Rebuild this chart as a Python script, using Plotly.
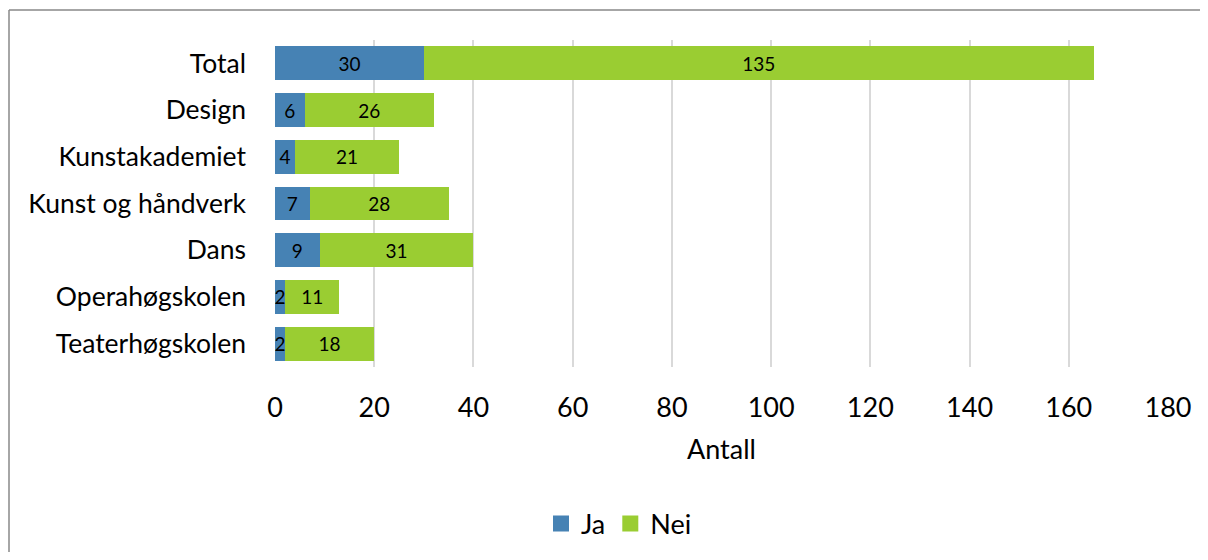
import plotly.graph_objects as go

categories = ["Total", "Design", "Kunstakademiet", "Kunst og håndverk", "Dans", "Operahøgskolen", "Teaterhøgskolen"]
ja = [30, 6, 4, 7, 9, 2, 2]
nei = [135, 26, 21, 28, 31, 11, 18]
x_ticks = [0, 20, 40, 60, 80, 100, 120, 140, 160, 180]

FONT = "Lato"
FS = 27
OFF = 8  # page body margin
W, H = 1208 - 2 * OFF, 560 - 2 * OFF
L, R, T = 275 - OFF, W - (1168 - OFF), 40 - OFF
B = H - (367 - OFF)
pw, ph = W - L - R, H - T - B
BLUE, GREEN = "#4682B4", "#9ACD32"

def px_x(x):  # page px -> paper
    return (x - OFF - L) / pw

def px_y(y):
    return (H - B - (y - OFF)) / ph

fig = go.Figure()
fig.add_trace(go.Bar(y=categories, x=ja, name="Ja", orientation="h", showlegend=False,
                     marker=dict(color=BLUE, line=dict(width=0)),
                     text=ja, textposition="inside", insidetextanchor="middle",
                     constraintext="none",
                     textfont=dict(family=FONT, size=19, color="black")))
fig.add_trace(go.Bar(y=categories, x=nei, name="Nei", orientation="h", showlegend=False,
                     marker=dict(color=GREEN, line=dict(width=0)),
                     text=nei, textposition="inside", insidetextanchor="middle",
                     constraintext="none",
                     textfont=dict(family=FONT, size=19, color="black")))
for nm, col in [("Ja", BLUE), ("Nei", GREEN)]:
    fig.add_trace(go.Scatter(x=[None], y=[None], mode="markers", name=nm,
                             marker=dict(symbol="square", size=17, color=col)))

fig.update_layout(
    barmode="stack", bargap=0.277,
    width=W, height=H,
    margin=dict(l=L, r=R, t=T, b=B, autoexpand=False),
    paper_bgcolor="white", plot_bgcolor="white",
    font=dict(family=FONT, size=FS, color="black"),
    legend=dict(orientation="h", x=px_x(619), xanchor="center", y=px_y(524), yanchor="middle",
                font=dict(family=FONT, size=FS, color="black"), traceorder="normal",
                itemwidth=30),
    xaxis=dict(range=[0, 180], tickvals=x_ticks, showgrid=True, gridcolor="#D9D9D9", gridwidth=2,
               zeroline=False, showline=False, ticks="", ticklabelstandoff=22,
               tickfont=dict(family=FONT, size=FS),
               title=dict(text="Antall", font=dict(family=FONT, size=FS), standoff=18)),
    yaxis=dict(categoryorder="array", categoryarray=categories[::-1],
               showgrid=False, zeroline=False, showline=False, ticks="",
               ticklabelstandoff=28, tickfont=dict(family=FONT, size=26.5)),
    shapes=[
        dict(type="line", xref="paper", yref="paper", x0=px_x(9), x1=px_x(1230), y0=px_y(10), y1=px_y(10),
             line=dict(color="#898989", width=1.5)),
        dict(type="line", xref="paper", yref="paper", x0=px_x(9), x1=px_x(9), y0=px_y(10), y1=px_y(600),
             line=dict(color="#898989", width=1.5)),
    ],
)

fig.write_html("out.html")
